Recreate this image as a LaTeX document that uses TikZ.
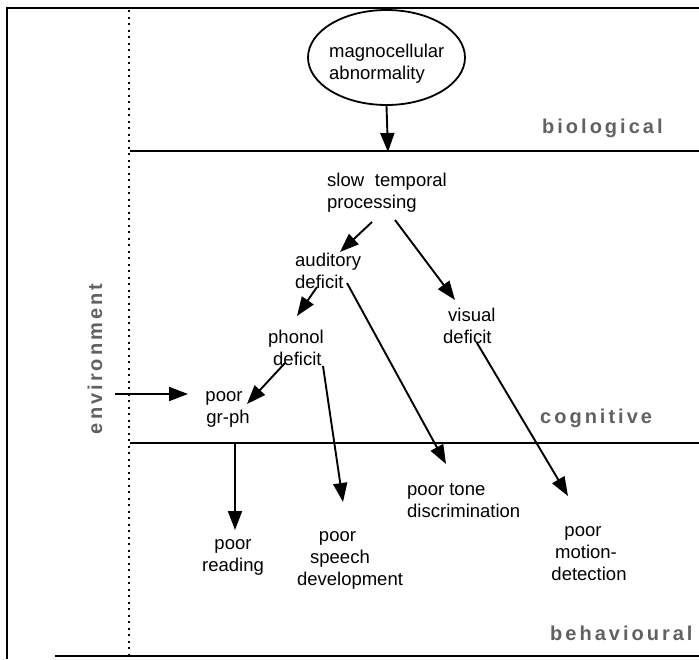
\documentclass[tikz,border=0pt]{standalone}
\usepackage{fontspec}
\setmainfont{Liberation Sans}
\newfontfamily\catfont[LetterSpace=15]{Liberation Sans Bold}
\usetikzlibrary{arrows.meta,shapes.geometric}
\begin{document}
\begin{tikzpicture}[x=1pt,y=-1pt,
  lbl/.style={inner sep=0pt, font=\fontsize{18.5}{22}\selectfont, align=left, anchor=west},
  lblc/.style={inner sep=0pt, font=\fontsize{18.5}{22}\selectfont, align=center},
  cat/.style={inner sep=0pt, font=\fontsize{20}{22}\catfont, text=black!62, anchor=west},
  arr/.style={-{Triangle[length=19pt,width=14pt]}, line width=1.9pt},
  rule/.style={line width=2.3pt},
  dots/.style={line width=2.2pt, dash pattern=on 2pt off 4.5pt}]
\useasboundingbox (0,0) rectangle (699,659);

% frame and level boundaries
\draw[rule, line width=2.8pt] (7,659) -- (7,8) -- (699,8);
\draw[rule] (55,656) -- (699,656);
\draw[dots] (129,10) -- (129,659);
\draw[rule] (130,151) -- (699,151);
\draw[rule] (130,443) -- (699,443);

% level names
\node[cat] (bio) at (542,128) {biological};
\node[cat] (cog) at (540,418) {cognitive};
\node[cat] (beh) at (550,633) {behavioural};
\node[cat, anchor=center, rotate=90] (env) at (95,359) {environment};

% causal chain
\node[draw, ellipse, minimum width=157pt, minimum height=95pt, line width=1.8pt, inner sep=0pt] (magno) at (386.5,57.5) {};
\node[lbl] (magnotxt) at (329,64) {magnocellular\\abnormality};
\node[lbl] (slow) at (327,192.5) {slow\hspace{0.3em} temporal\\processing};
\node[lbl] (aud) at (295,271) {auditory\\deficit};
\node[lbl] (vis) at (443,326) {\hspace{5pt}visual\\deficit};
\node[lbl] (phon) at (268,347.5) {phonol\\\hspace{5pt}deficit};
\node[lblc] (grph) at (224,409) {poor\\\hspace{8pt}gr-ph};
\node[lbl] (tone) at (407,501) {poor tone\\discrimination};
\node[lblc] (read) at (233,557) {poor\\reading};
\node[lblc] (speech) at (350,560.5) {\hspace{-25pt}poor\\\hspace{-20pt}speech\\development};
\node[lblc] (motion) at (589,553.5) {\hspace{-12pt}poor\\\hspace{-6pt}motion-\\detection};

% connector end points
\coordinate (magno-in) at (388,152);
\coordinate (aud-in) at (340,252);
\coordinate (slow-outa) at (372,222);
\coordinate (slow-outv) at (395,220);
\coordinate (vis-in) at (455,300);
\coordinate (aud-outp) at (317,287);
\coordinate (phon-in) at (297,316);
\coordinate (aud-outt) at (347,283);
\coordinate (tone-in) at (446,464);
\coordinate (phon-outg) at (285,363);
\coordinate (grph-in) at (247,404);
\coordinate (phon-outs) at (323,366);
\coordinate (speech-in) at (343,502);
\coordinate (vis-out) at (477,343);
\coordinate (motion-in) at (568,496);
\coordinate (env-out) at (115,394);
\coordinate (env-in) at (188,394);
\coordinate (grph-out) at (235,442);
\coordinate (read-in) at (235,530);

\draw[arr] (magno.south) -- (magno-in);
\draw[arr] (slow-outa) -- (aud-in);
\draw[arr] (slow-outv) -- (vis-in);
\draw[arr] (aud-outp) -- (phon-in);
\draw[arr] (aud-outt) -- (tone-in);
\draw[arr] (phon-outg) -- (grph-in);
\draw[arr] (phon-outs) -- (speech-in);
\draw[arr] (vis-out) -- (motion-in);
\draw[arr] (env-out) -- (env-in);
\draw[arr] (grph-out) -- (read-in);
\end{tikzpicture}
\end{document}
